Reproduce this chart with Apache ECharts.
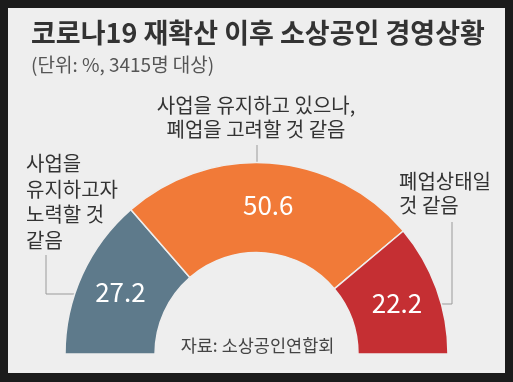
<!DOCTYPE html>
<html><head><meta charset="utf-8">
<script src="https://cdn.jsdelivr.net/npm/echarts@6/dist/echarts.min.js"></script>
<style>html,body{margin:0;padding:0;background:#1b1b1b;}#c{width:513px;height:382px;}</style>
</head><body><div id="c"></div>
<script>
var categories = ['사업을\n유지하고자\n노력할 것\n같음', '사업을 유지하고 있으나,\n폐업을 고려할 것 같음', '폐업상태일\n것 같음'];
var values = [27.2, 50.6, 22.2];
var colors = ['#5e7a8b', '#f17a38', '#c52f33'];
var titleText = '코로나19 재확산 이후 소상공인 경영상황';
var subtitleText = '(단위: %, 3415명 대상)';
var sourceText = '자료: 소상공인연합회';

var FONT = '"Noto Sans CJK KR", "Noto Sans", sans-serif';
// label placement (page pixels)
var labelPlaces = [
  {x: 26, y: 151, align: 'left', lh: 25.5, line: [[74, 294], [46, 294], [46, 255]]},
  {x: 256, y: 93, align: 'center', lh: 24, line: [[257, 162], [257, 153], [257, 145]]},
  {x: 399, y: 169, align: 'left', lh: 24.5, line: [[441, 304], [452, 304], [452, 222]]}
];

var chart = echarts.init(document.getElementById('c'), null, {renderer: 'canvas'});
var valueData = values.map(function (v, i) {
  return {name: categories[i], value: v, itemStyle: {color: colors[i]}};
});
var nameData = values.map(function (v, i) {
  return {name: categories[i], value: v, label: {lineHeight: labelPlaces[i].lh, align: labelPlaces[i].align}};
});
var center = [256.5, 354];
var radius = [101.5, 191.5];
chart.setOption({
  backgroundColor: '#1b1b1b',
  animation: false,
  graphic: [
    {type: 'rect', shape: {x: 8, y: 8, width: 497, height: 365}, style: {fill: '#eeeeee'}, z: -10},
    {type: 'text', left: 31, top: 19, style: {text: titleText, font: 'bold 27px ' + FONT, fill: '#333333'}},
    {type: 'text', left: 31, top: 55, style: {text: subtitleText, font: '19px ' + FONT, fill: '#555555'}},
    {type: 'text', x: 257.5, y: 345, style: {text: sourceText, font: '17.5px ' + FONT, fill: '#444444', align: 'center', verticalAlign: 'middle'}}
  ],
  series: [
    {
      type: 'pie',
      center: center,
      radius: radius,
      startAngle: 180,
      endAngle: 0,
      clockwise: true,
      silent: true,
      itemStyle: {borderColor: '#eeeeee', borderWidth: 1.5},
      label: {
        show: true, position: 'inside', color: '#ffffff',
        fontFamily: FONT, fontSize: 26,
        formatter: function (p) { return p.value.toFixed(1); }
      },
      labelLine: {show: false},
      data: valueData
    },
    {
      type: 'pie',
      center: center,
      radius: radius,
      startAngle: 180,
      endAngle: 0,
      clockwise: true,
      silent: true,
      avoidLabelOverlap: false,
      itemStyle: {color: 'rgba(0,0,0,0)'},
      label: {
        show: true, position: 'outside', color: '#333333',
        fontFamily: FONT, fontSize: 20,
        formatter: function (p) { return p.name; }
      },
      labelLine: {show: true, lineStyle: {color: '#9a9a9a', width: 1}},
      labelLayout: function (params) {
        var pl = labelPlaces[params.dataIndex];
        return {x: pl.x, y: pl.y, align: pl.align, verticalAlign: 'top', labelLinePoints: pl.line};
      },
      data: nameData
    }
  ]
});
</script></body></html>
